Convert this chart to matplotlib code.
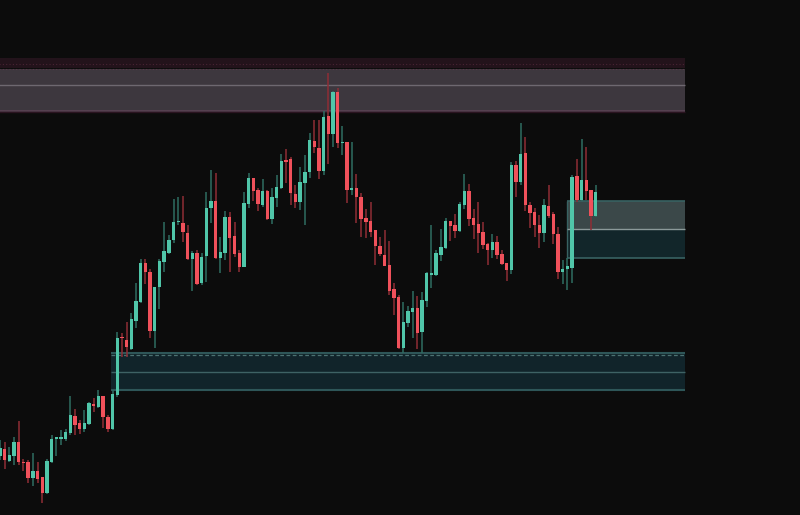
import matplotlib
matplotlib.use("Agg")
import matplotlib.pyplot as plt
import numpy as np

# OHLC values (arbitrary price units)
opens = [59,66,54,59,73,53,53,37,44,38,22,53,76,76,76,82,99,92,86,91,111,108,119,98,86,120,178,175,166,194,
         213,252,243,184,228,253,262,275,293,292,282,256,262,232,259,307,314,257,262,298,279,262,248,311,337,325,310,324,296,317,
         327,355,356,321,313,332,343,374,367,344,399,381,423,372,373,325,327,318,297,294,285,269,260,250,226,218,167,192,203,207,
         183,214,240,240,260,267,294,290,284,310,324,297,291,283,271,265,273,261,252,245,350,333,362,310,303,290,282,309,301,281,
         243,246,247,339,315,335,325,299]
highs = [75,73,68,78,94,56,55,62,53,38,56,80,78,85,86,119,106,95,105,113,117,125,119,100,125,183,182,193,202,232,
         256,256,246,228,256,293,280,316,318,319,290,264,265,262,323,345,342,278,304,303,293,265,323,342,337,327,336,325,327,340,
         361,366,358,330,348,360,382,395,395,404,442,424,427,389,373,373,341,322,306,313,285,278,285,274,232,220,213,209,224,219,
         223,243,290,265,286,297,294,301,313,341,331,306,313,293,272,281,279,265,252,353,354,392,378,313,307,300,316,330,303,288,
         255,257,340,356,376,368,325,330]
lows = [55,46,53,50,50,44,32,29,32,12,21,52,59,70,74,80,80,81,83,90,103,107,87,83,85,118,158,158,165,187,
        212,231,177,167,206,243,261,272,290,273,255,224,230,230,233,292,256,242,255,243,258,243,248,307,314,304,308,295,291,308,
        326,332,310,307,305,290,337,362,336,340,351,368,367,360,312,320,292,278,277,278,250,259,249,220,200,166,162,188,177,166,
        162,208,227,239,254,266,274,277,283,306,289,276,262,266,250,257,256,250,234,241,318,330,304,287,278,267,273,297,271,236,
        231,225,232,313,314,315,285,298]
closes = [67,55,60,73,53,52,37,44,36,22,54,76,78,78,83,100,90,86,92,112,109,119,98,86,121,177,177,168,196,214,
          252,243,184,228,254,264,275,293,294,283,256,262,231,258,307,314,257,263,298,277,261,248,312,337,324,311,324,296,318,328,
          354,353,322,313,333,343,375,368,344,398,381,423,372,373,325,327,318,296,293,283,269,261,249,224,217,167,193,204,207,182,
          215,242,242,262,268,294,289,284,311,324,296,290,282,270,265,273,260,251,245,350,333,361,310,302,290,282,310,299,281,243,
          246,249,338,315,335,324,299,323]

# Zones (price units)
supply_cap = (447, 457)
supply_zone = (404, 446.5)
supply_mid = 430.5
demand_zone = (125, 162)
demand_mid = 143
demand_dash = 160
right_zone = (257.3, 314.3)
right_mid = 286

BG = "#0c0c0c"
UP = "#50c6a9"
DN = "#f0515b"
UP_W = "#2f6d62"
DN_W = "#8f2d35"

fig = plt.figure(figsize=(8, 5.15), dpi=100, facecolor=BG)
ax = fig.add_axes([0, 0, 1, 1])
ax.set_facecolor(BG)
step = 4.69
ax.set_xlim(0, 800 / step)
ax.set_ylim(0, 515)
ax.axis("off")

n = len(opens)
x = np.arange(n)
x_end = 685 / step

# supply zone (top)
ax.fill_between([-1, x_end], supply_cap[0], supply_cap[1], color="#23131b", lw=0, zorder=1)
ax.fill_between([-1, x_end], supply_zone[0], supply_zone[1], color="#3d373e", lw=0, zorder=1)
ax.hlines(supply_mid, -1, x_end, color="#6e6870", lw=1.0, zorder=2)
ax.hlines(supply_zone[0] + 0.5, -1, x_end, color="#5c4455", lw=1.2, zorder=2)
ax.hlines(supply_zone[0] - 0.8, -1, x_end, color="#2a1420", lw=1.0, zorder=2)
ax.hlines(supply_zone[1], -1, x_end, color="#5a3a4a", lw=0.8, ls=(0, (1, 2)), zorder=2)
ax.hlines(451, -1, x_end, color="#4a2434", lw=0.8, ls=(0, (1, 2)), zorder=2)

# demand zone (bottom)
dz_x0 = 24 - 0.35
ax.fill_between([dz_x0, x_end], demand_zone[0], demand_zone[1], color="#11242a", lw=0, zorder=1)
ax.hlines(demand_zone[1], dz_x0, x_end, color="#2e5658", lw=1.5, zorder=2)
ax.hlines(demand_dash, dz_x0, x_end, color="#4c7272", lw=0.9, ls=(0, (3, 2)), zorder=2)
ax.hlines(demand_mid, dz_x0, x_end, color="#3e6264", lw=1.0, zorder=2)
ax.hlines(demand_zone[0], dz_x0, x_end, color="#2e5658", lw=1.5, zorder=2)

# right zone
rz_x0 = 121 - 0.05
ax.fill_between([rz_x0, x_end], right_mid, right_zone[1], color="#3b4849", lw=0, zorder=1)
ax.fill_between([rz_x0, x_end], right_zone[0], right_mid, color="#12262a", lw=0, zorder=1)
ax.hlines([right_zone[0], right_zone[1]], rz_x0, x_end, color="#386262", lw=1.2, zorder=2)
ax.vlines([rz_x0], right_zone[0], right_zone[1], color="#386262", lw=1.0, zorder=2)
ax.hlines(right_mid, rz_x0, x_end, color="#8c9a9a", lw=1.0, zorder=2)

# candles
o = np.array(opens, float); h = np.array(highs, float)
l = np.array(lows, float); c = np.array(closes, float)
up = c >= o
ax.vlines(x[up], l[up], h[up], color=UP_W, lw=1.1, zorder=3)
ax.vlines(x[~up], l[~up], h[~up], color=DN_W, lw=1.1, zorder=3)
bot = np.minimum(o, c)
hgt = np.maximum(np.abs(c - o), 1.2)
ax.bar(x[up], hgt[up], bottom=bot[up], width=0.72, color=UP, lw=0, zorder=4)
ax.bar(x[~up], hgt[~up], bottom=bot[~up], width=0.72, color=DN, lw=0, zorder=4)

fig.savefig("out.png", dpi=100, facecolor=BG)
